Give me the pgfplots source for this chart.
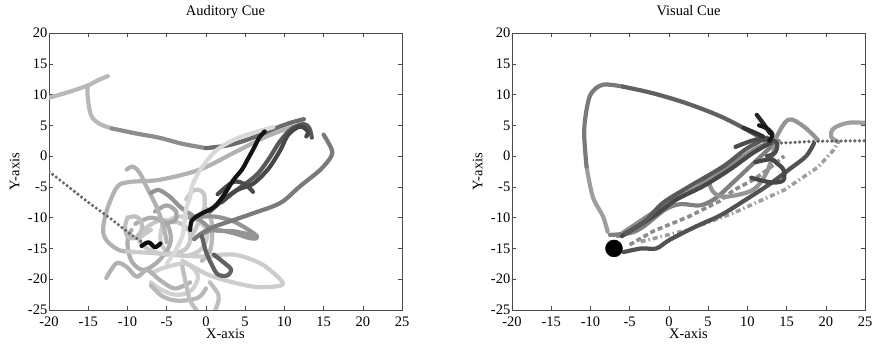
\documentclass[border=0pt]{standalone}
\usepackage{fontspec}
\setmainfont{Liberation Serif}
\usepackage{pgfplots}
\pgfplotsset{compat=1.18}
\pgfplotsset{
  myaxis/.style={
    width=353bp, height=277bp, scale only axis,
    xmin=-20,xmax=25,ymin=-25,ymax=20,
    xtick={-20,-15,...,25}, ytick={-25,-20,...,20},
    xticklabels={-20,-15,-10,-5,0,5,10,15,20,25},
    yticklabels={-25,-20,-15,-10,-5,0,5,10,15,20},
    tick align=inside, xtick pos=both, ytick pos=both,
    major tick length=4bp,
    axis line style={black!70, line width=0.5bp},
    every tick/.style={black!70, line width=0.5bp},
    tick label style={font=\fontsize{14.5bp}{16bp}\selectfont},
    xticklabel style={anchor=base, yshift=-16.5bp, inner sep=0pt},
    yticklabel style={anchor=east, inner sep=1.5bp},
    xlabel={X-axis}, ylabel={Y-axis},
    label style={font=\fontsize{14.5bp}{16bp}\selectfont},
    xlabel style={at={(axis description cs:0.5,-0.1025)}, anchor=base, inner sep=0pt},
    ylabel style={at={(axis description cs:-0.0836,0.5)}, anchor=base},
    title style={at={(axis description cs:0.5,1.0408)}, anchor=base, font=\fontsize{14.5bp}{16bp}\selectfont},
  },
  tr/.style={line width=4.2bp, line cap=round, line join=round, smooth, tension=0.55, color=#1},
  dotl/.style={line width=3.6bp, line cap=round, dash pattern=on 0pt off 4.6bp, color=#1},
  dashl/.style={line width=3.6bp, dash pattern=on 5bp off 3bp, color=#1},
  dashdotl/.style={line width=3.6bp, dash pattern=on 5bp off 3bp on 1.5bp off 3bp, color=#1},
}
\begin{document}
\begin{tikzpicture}
\begin{axis}[myaxis, title={Auditory Cue}, at={(0,0)}, anchor=south west]
% light tangle
\addplot[tr=black!18] coordinates {(-7,-19) (-5,-18) (-2.5,-17.5) (-1,-19.5) (-2,-22) (-4,-22.5) (-6,-21.5) (-7,-20.5)};
\addplot[tr=black!28] coordinates {(-7,-21) (-5.5,-22.8) (-3.5,-23.5) (-1,-23) (0,-21.5)};
\addplot[tr=black!20] coordinates {(-5.5,-11) (-3.5,-9.8) (-1,-10.5) (0.2,-12.5) (-0.5,-15) (-2.5,-16.2) (-5,-15.5) (-5.8,-13.5) (-5.5,-11)};
\addplot[tr=black!22] coordinates {(-8,-12) (-6,-10.5) (-3.5,-10.8) (-2,-12.5) (-2.5,-15) (-5,-16) (-7.5,-15) (-8.5,-13.5) (-7,-12)};
\addplot[tr=black!32] coordinates {(-9,-11) (-7,-10) (-5,-11) (-4.5,-14) (-6,-17) (-8,-18.5) (-9.5,-17) (-10,-14) (-9.5,-12)};
\addplot[tr=black!25] coordinates {(-10,-10) (-9,-9.8) (-8.3,-10.5) (-8.2,-12) (-9,-13.3) (-10,-13) (-10.3,-11.5) (-10,-10)};
\addplot[tr=black!30] coordinates {(-12.7,-19.8) (-11.4,-17.4) (-10.1,-18) (-8.8,-19.6) (-7.5,-18.5) (-6,-20) (-4,-21.5) (-2,-20.5)};
\addplot[tr=black!25] coordinates {(-3,-18) (-2.5,-21) (-2,-23.5) (-1.2,-25)};
\addplot[tr=black!25] coordinates {(0.5,-20.5) (1.6,-22.5) (1.5,-24) (1.2,-25)};
\addplot[tr=black!28] coordinates {(0,-8.5) (0.7,-10.5) (0.8,-13) (0.5,-15.5) (-0.5,-17)};
\addplot[tr=black!22] coordinates {(-2.5,-7) (-1.5,-5.5) (-0.3,-6) (-0.2,-8.5) (-1,-11) (-2,-13.5)};
\addplot[tr=black!35] coordinates {(-6.5,-9) (-5,-8) (-3.8,-9) (-4,-10.5) (-5.5,-11)};
\addplot[tr=black!30] coordinates {(11.2,4.8) (7.75,3.2) (3.5,0.5) (-0.8,-2.2) (-5.9,-3.85) (-9.7,-4.2) (-11.3,-5) (-12.6,-8.7) (-13.1,-12) (-12.6,-13.8) (-11,-15.3) (-9,-15.6)};
\addplot[tr=black!30] coordinates {(-10.1,-2.2) (-9.3,-1.7) (-8.4,-2.8) (-7.6,-4.9) (-6.3,-8.2) (-5.4,-11.4) (-5,-14)};
\addplot[tr=black!20] coordinates {(-10,-15.5) (-5,-15.9) (-0.75,-16.3) (3.5,-16) (6.9,-17.4) (9.3,-19.8) (9.6,-21) (6,-21.2) (1,-19.6) (-1.6,-18) (-3,-17)};
\addplot[tr=black!42] coordinates {(-7,-6) (-6,-5.5) (-4.6,-6.6) (-3.5,-8) (-2.5,-9) (-0.75,-10.4) (1,-12) (3.5,-12.2) (6.5,-13)};
\addplot[tr=black!42] coordinates {(-2,-10) (0.95,-9.8) (3.5,-10.6) (6.05,-12.5) (6.5,-13.3) (5.5,-13.3) (3.5,-12.5) (0.95,-12) (-1,-13)};
% top curve
\addplot[tr=black!28] coordinates {(-20,9.5) (-17.5,10.4) (-15,11.5) (-13.8,12.3) (-12.5,13)};
\addplot[tr=black!28] coordinates {(-15,11.5) (-15.1,10.3) (-14.9,8) (-14.5,6.3) (-13.5,5.2) (-12,4.5)};
\addplot[tr=black!45] coordinates {(-12,4.5) (-9,3.7) (-6,3) (-3,2) (0,1.3)};
\addplot[tr=black!58] coordinates {(0,1.3) (3,1.8) (6,3) (9,4.6) (11,5.5) (12.5,6)};
\addplot[dotl=black!58] coordinates {(-20,-2.5) (-15,-7.5) (-12,-10.3) (-9.5,-12.8) (-7.5,-14.5)};
% medium
\addplot[tr=black!52] coordinates {(15,3.5) (16,1.2) (16,0) (14.6,-2.2) (12,-4.9) (9.5,-7.6) (6,-9.3) (3.5,-10.4) (1,-11.5) (-0.5,-12.5) (-1.5,-13.5)};
\addplot[tr=black!62] coordinates {(-0.5,-13) (0,-15.5) (0.7,-17.5) (1.5,-19.2) (2.7,-19.4) (3.2,-18.4) (2.2,-17.2) (1,-16)};
\addplot[tr=black!15] coordinates {(8.6,4.7) (4.4,3.1) (1.4,1) (-0.7,-2.2) (-1.8,-5) (-2,-6.6) (-2.6,-9) (-2.9,-12.5) (-3.8,-15.2) (-5,-17.5)};
% dark
\addplot[tr=black!65] coordinates {(0.5,-9) (2.5,-6.8) (4.5,-5) (6.5,-3) (8,-0.5) (9.5,2.5) (11,4.5) (12.5,5.2) (13.2,4.5) (13.5,3)};
\addplot[tr=black!72] coordinates {(2,-7.5) (4,-5.5) (6,-4.5) (8,-2) (9.5,1) (10.5,3.5) (12,4.8) (13,4) (12.8,3.2)};
\addplot[tr=black!70] coordinates {(1.5,-6.2) (3.5,-4.2) (5,-4.6) (6,-5.8)};
\addplot[tr=black!95] coordinates {(-8.2,-14.6) (-7.3,-14) (-6.5,-14.8) (-5.8,-14.2)};
\addplot[tr=black!92] coordinates {(-2,-12) (-1.8,-10.5) (-0.8,-9.5) (1,-8.3) (2.2,-6.5) (3.5,-3.9) (4.6,-2.2) (5.3,-0.6) (6.2,1.5) (6.8,3) (7.5,4)};
\end{axis}
\begin{axis}[myaxis, title={Visual Cue}, at={(463bp,0)}, anchor=south west]
\addplot[tr=black!38] coordinates {(-7.8,-12.3) (-8.4,-9.8) (-9.7,-6.6) (-10.5,-1.7)};
\addplot[tr=black!52] coordinates {(-10.5,-1.7) (-10.8,3.7) (-10.5,7.5) (-9.9,10.2) (-8.4,11.6) (-5.9,11.3)};
\addplot[tr=black!62] coordinates {(-5.9,11.3) (-2,10.2) (2.2,8.6) (6.5,6.5) (9.9,4.3) (12,2.7) (13,1.5)};
\addplot[dashdotl=black!38] coordinates {(-3.6,-13.9) (2.4,-12) (8.3,-9.2) (14.7,-5.5) (19,-1.8) (21,1) (21.6,2.3)};
\addplot[tr=black!38] coordinates {(21.6,2.3) (20.7,3.1) (21,4.5) (22.8,5.4) (25,5.4)};
\addplot[dashl=black!45] coordinates {(-5,-14.4) (-2,-12.2) (2.4,-9.9) (6.5,-7.3) (8.3,-5.5) (10.7,-3.9) (12.6,-2.2) (14.7,0.0)};
\addplot[tr=black!45] coordinates {(-6.5,-13) (-3,-10) (0,-7.5) (3,-5.5) (6,-3) (9,-0.5) (11.5,1.5) (14,2.5)};
\addplot[tr=black!50] coordinates {(-7.5,-12.8) (-5,-12.5) (-3.3,-11.5) (-0.5,-8.7) (1.5,-7.8) (4,-8) (6,-6.8) (8,-4.5) (10.5,-1.5) (13,1.5)};
\addplot[tr=black!42] coordinates {(5.5,-3) (5.2,-4.5) (5.8,-6) (7.3,-6.6) (10.7,-5.5) (12.4,-2.8) (13.3,0.5) (13.5,2.5) (15.2,5.9) (17.2,4.8) (19,2.6)};
\addplot[dotl=black!60] coordinates {(12,1.8) (14.1,2.1) (18.4,2.4) (25,2.5)};
\addplot[tr=black!68] coordinates {(-5.8,-15.6) (-3.5,-15) (-1.6,-15) (0.1,-13.6) (3.5,-11.4) (6.6,-9.6) (9.9,-7) (12.9,-4.5) (15.5,-2) (17.5,0) (18.5,2.1)};
\addplot[tr=black!72] coordinates {(-6,-13) (-2,-9.8) (0.9,-7.1) (4.35,-4.9) (7.75,-2.2) (10.7,0.5) (12.9,2.1)};
\addplot[tr=black!65] coordinates {(-5.5,-12.5) (-3,-10.5) (-0.75,-7.6) (2.65,-4.9) (6.9,-1.7) (9.9,1.2) (12.5,3)};
\addplot[tr=black!72] coordinates {(11,-1) (13,-0.5) (13.7,-1.1) (14.6,-2.2) (14.6,-3.9) (13.3,-4.3) (11.6,-3.9) (10.5,-3.5)};
\addplot[tr=black!70] coordinates {(8.5,1.5) (9.9,2.2) (11.2,2.7) (12.9,2.7) (13.8,2) (13.5,0.5) (12.5,0)};
\addplot[tr=black!85] coordinates {(11.2,6.7) (12.1,5.2) (12.9,3.7)};
\addplot[tr=black!80] coordinates {(9.5,4.6) (10.8,3.9) (12,3.2)};
\addplot[tr=black!90] coordinates {(11.5,5) (12.5,4.5) (13.2,3.5) (12.8,2.5)};
\addplot[only marks, mark=*, mark size=8.5bp, black] coordinates {(-7,-15)};
\end{axis}
\pgfresetboundingbox
\path[use as bounding box] (-49bp,-35bp) rectangle (823bp,310bp);
\end{tikzpicture}
\end{document}
